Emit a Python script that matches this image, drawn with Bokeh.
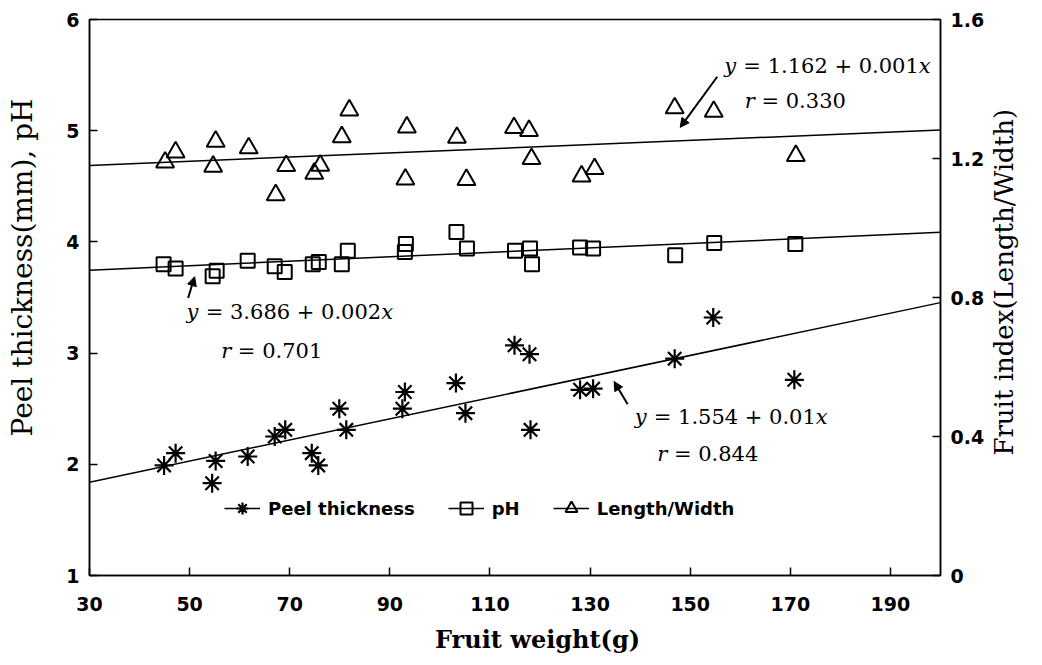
import math
import json
from bokeh.plotting import figure
from bokeh.models import (Range1d, LinearAxis, FixedTicker, Legend, LegendItem, Label,
                          Arrow, NormalHead, CustomJSTickFormatter)
from bokeh.embed import file_html
from bokeh.resources import INLINE

# ---------------- data ----------------
x_ticks = [30, 50, 70, 90, 110, 130, 150, 170, 190]
left_ticks = [1, 2, 3, 4, 5, 6]
right_ticks = [0, 0.4, 0.8, 1.2, 1.6]

peel_x = [44.9, 47.2, 55.2, 54.5, 61.6, 67.0, 69.1, 74.4, 75.7, 79.9, 81.3, 92.5,
          93.0, 103.2, 105.1, 114.9, 117.9, 118.1, 128.0, 130.6, 146.9, 154.6, 170.8]
peel_y = [1.99, 2.10, 2.03, 1.83, 2.07, 2.25, 2.31, 2.10, 1.99, 2.50, 2.31, 2.50,
          2.65, 2.73, 2.46, 3.07, 2.99, 2.31, 2.67, 2.68, 2.95, 3.32, 2.76]

ph_x = [44.8, 47.2, 54.6, 55.4, 61.6, 67.0, 69.0, 74.6, 75.8, 80.4, 81.6, 93.0,
        93.2, 103.3, 105.4, 115.0, 118.0, 118.4, 128.0, 130.6, 147.0, 154.8, 171.0]
ph_y = [3.80, 3.76, 3.69, 3.74, 3.83, 3.78, 3.73, 3.80, 3.82, 3.80, 3.92, 3.91,
        3.98, 4.09, 3.94, 3.92, 3.94, 3.80, 3.95, 3.94, 3.88, 3.99, 3.98]

lw_x = [45.1, 47.2, 55.2, 54.7, 61.8, 67.2, 69.3, 74.9, 76.1, 80.4, 81.9, 93.4,
        93.1, 103.4, 105.3, 114.8, 117.8, 118.3, 128.3, 130.9, 146.9, 154.7, 171.1]
lw_y = [1.189, 1.218, 1.249, 1.177, 1.230, 1.095, 1.179, 1.157, 1.180, 1.262, 1.339, 1.290,
        1.140, 1.260, 1.139, 1.288, 1.280, 1.199, 1.149, 1.170, 1.345, 1.335, 1.208]

# regression lines (intercept, slope) as drawn
peel_fit = (1.554, 0.0095)
ph_fit = (3.686, 0.002)
lw_fit = (1.162, 0.0006)
fit_x = [30, 200]

series_names = ["Peel thickness", "pH", "Length/Width"]
eq_texts = [("y", "= 1.162 + 0.001", "x", "r", "= 0.330"),
            ("y", "= 3.686 + 0.002", "x", "r", "= 0.701"),
            ("y", "= 1.554 + 0.01", "x", "r", "= 0.844")]
x_title = "Fruit weight(g)"
y_title = "Peel thickness(mm), pH"
y2_title = "Fruit index(Length/Width)"

# ---------------- figure ----------------
p = figure(frame_width=851, frame_height=556, output_backend="svg", toolbar_location=None,
           x_range=Range1d(30, 200), y_range=Range1d(1, 6),
           min_border_left=89, min_border_right=100, min_border_top=19, min_border_bottom=82)
p.extra_y_ranges = {"right": Range1d(0, 1.6)}
p.xgrid.grid_line_color = None
p.ygrid.grid_line_color = None
p.outline_line_color = "black"
p.outline_line_width = 1.5
p.background_fill_color = "white"

TICK_FONT = "DejaVu Sans"
SERIF = "DejaVu Serif"


def style_axis(ax):
    ax.axis_line_width = 1.5
    ax.axis_line_color = "black"
    ax.major_tick_in = 8
    ax.major_tick_out = 0
    ax.major_tick_line_width = 1.5
    ax.major_tick_line_color = "black"
    ax.minor_tick_line_color = None
    ax.major_label_text_font = TICK_FONT
    ax.major_label_text_font_style = "bold"
    ax.major_label_text_font_size = "19px"
    ax.major_label_text_color = "black"


def title_axis(ax, text, size, style, standoff):
    # an axis that only shows one label: the axis title, placed at a chosen tick
    ax.formatter = CustomJSTickFormatter(code="return %s;" % json.dumps(text))
    ax.axis_line_color = None
    ax.major_tick_line_color = None
    ax.minor_tick_line_color = None
    ax.major_tick_in = 0
    ax.major_tick_out = 0
    ax.minor_tick_in = 0
    ax.minor_tick_out = 0
    ax.major_label_standoff = standoff
    ax.major_label_text_font = SERIF
    ax.major_label_text_font_size = size
    ax.major_label_text_font_style = style
    ax.major_label_text_color = "black"


xa = p.xaxis[0]
style_axis(xa)
xa.ticker = FixedTicker(ticks=x_ticks)
xa.major_label_standoff = 21

ya = p.yaxis[0]
style_axis(ya)
ya.ticker = FixedTicker(ticks=left_ticks)
ya.major_label_standoff = 10

ra = LinearAxis(y_range_name="right")
style_axis(ra)
ra.ticker = FixedTicker(ticks=right_ticks)
ra.formatter = CustomJSTickFormatter(code="return tick == 0 ? '0' : tick.toFixed(1);")
ra.major_label_standoff = 10
p.add_layout(ra, "right")

# axis titles
ya2 = LinearAxis(ticker=FixedTicker(ticks=[3.77]))
title_axis(ya2, y_title, "28px", "normal", 24)
ya2.major_label_orientation = "vertical"
p.add_layout(ya2, "left")

ra2 = LinearAxis(y_range_name="right", ticker=FixedTicker(ticks=[0.345]))
title_axis(ra2, y2_title, "26px", "normal", 17)
ra2.major_label_orientation = math.pi / 2
p.add_layout(ra2, "right")

xa2 = LinearAxis(ticker=FixedTicker(ticks=[119.5]))
title_axis(xa2, x_title, "24px", "bold", 11)
p.add_layout(xa2, "below")

# ---------------- fitted lines ----------------
l_peel = p.line(fit_x, [peel_fit[0] + peel_fit[1] * v for v in fit_x], line_color="black", line_width=1.5)
l_ph = p.line(fit_x, [ph_fit[0] + ph_fit[1] * v for v in fit_x], line_color="black", line_width=1.5)
l_lw = p.line(fit_x, [lw_fit[0] + lw_fit[1] * v for v in fit_x], line_color="black", line_width=1.5,
              y_range_name="right")

# ---------------- points ----------------
s_peel = p.scatter(peel_x, peel_y, marker="asterisk", size=19, line_color="black", line_width=2.2)
s_ph = p.scatter(ph_x, ph_y, marker="square", size=14, line_color="black", line_width=2,
                 fill_alpha=0)
s_lw = p.scatter(lw_x, lw_y, marker="triangle", size=18, line_color="black", line_width=2,
                 fill_alpha=0, y_range_name="right")

# ---------------- legend ----------------
legend = Legend(items=[LegendItem(label=series_names[0], renderers=[l_peel, s_peel]),
                       LegendItem(label=series_names[1], renderers=[l_ph, s_ph]),
                       LegendItem(label=series_names[2], renderers=[l_lw, s_lw])],
                location=(135, 52), orientation="horizontal",
                border_line_color=None, background_fill_alpha=0,
                label_text_font=TICK_FONT, label_text_font_style="bold",
                label_text_color="black",
                label_text_font_size="18px", glyph_width=36, glyph_height=30,
                spacing=33, padding=0, margin=0, label_standoff=8)
p.add_layout(legend)

# ---------------- annotations ----------------
EQ_SIZE = 21
# approximate DejaVu Serif advance widths (em)
W = {" ": 0.318, "=": 0.838, "+": 0.838, ".": 0.318, "y": 0.592, "x": 0.592, "r": 0.478}


def text_w(s):
    return sum(W.get(c, 0.636) for c in s) * EQ_SIZE


def add_piece(xv, yv, txt, off, italic):
    p.add_layout(Label(x=xv, y=yv, x_offset=off, text=txt, text_font=SERIF,
                       text_font_size=f"{EQ_SIZE}px", text_baseline="middle",
                       text_font_style="italic" if italic else "normal", text_color="black"))


def add_eq(xv, yv, rx, ry, parts):
    a, b, c, d, e = parts
    o1 = text_w(a) + text_w(" ")
    add_piece(xv, yv, a, 0, True)
    add_piece(xv, yv, b, o1, False)
    add_piece(xv, yv, c, o1 + text_w(b), True)
    add_piece(rx, ry, d, 0, True)
    add_piece(rx, ry, e, text_w(d) + text_w(" "), False)


add_eq(156.8, 5.585, 160.9, 5.263, eq_texts[0])
add_eq(49.4, 3.372, 56.3, 3.016, eq_texts[1])
add_eq(138.9, 2.424, 143.4, 2.093, eq_texts[2])

for xs, ys, xe, ye in [(155.4, 5.485, 148.0, 5.03), (49.7, 3.497, 51.0, 3.687), (137.5, 2.54, 134.8, 2.744)]:
    p.add_layout(Arrow(end=NormalHead(size=9, fill_color="black", line_color="black"),
                       x_start=xs, y_start=ys, x_end=xe, y_end=ye,
                       line_color="black", line_width=2))

open("out.html", "w").write(file_html(p, INLINE))
